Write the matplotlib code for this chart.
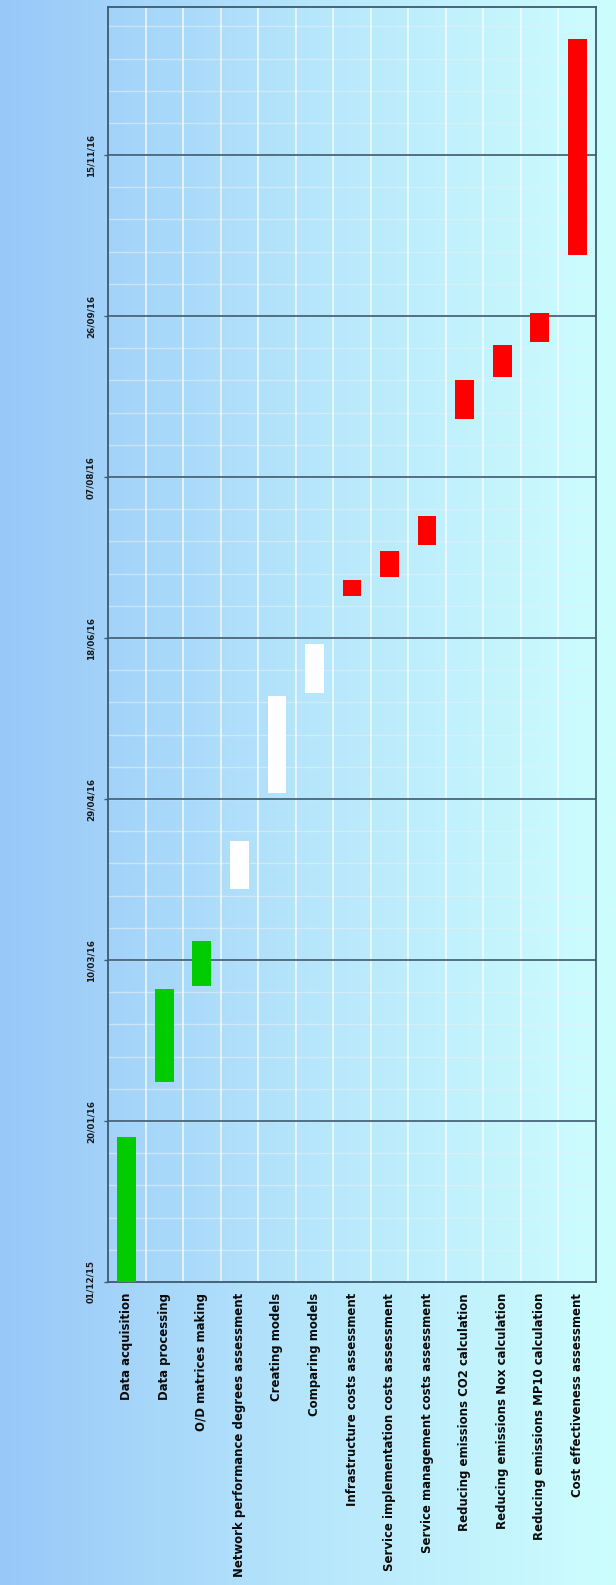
import numpy as np
import pandas as pd
import matplotlib
matplotlib.use("Agg")
import matplotlib.pyplot as plt
import matplotlib.dates as mdates
from matplotlib.colors import LinearSegmentedColormap

tasks = [
    "Data acquisition",
    "Data processing",
    "O/D matrices making",
    "Network performance degrees assessment",
    "Creating models",
    "Comparing models",
    "Infrastructure costs assessment",
    "Service implementation costs assessment",
    "Service management costs assessment",
    "Reducing emissions CO2 calculation",
    "Reducing emissions Nox calculation",
    "Reducing emissions MP10 calculation",
    "Cost effectiveness assessment",
]
starts = ["2015-12-01", "2016-02-01", "2016-03-02", "2016-04-01", "2016-05-01",
          "2016-06-01", "2016-07-01", "2016-07-07", "2016-07-17", "2016-08-25",
          "2016-09-07", "2016-09-18", "2016-10-15"]
ends = ["2016-01-15", "2016-03-01", "2016-03-16", "2016-04-16", "2016-05-31",
        "2016-06-16", "2016-07-06", "2016-07-15", "2016-07-26", "2016-09-06",
        "2016-09-17", "2016-09-27", "2016-12-21"]
phase = ["green", "green", "green", "white", "white", "white", "red",
         "red", "red", "red", "red", "red", "red"]
tick_dates = ["2015-12-01", "2016-01-20", "2016-03-10", "2016-04-29",
              "2016-06-18", "2016-08-07", "2016-09-26", "2016-11-15"]
axis_start, axis_end = "2015-12-01", "2016-12-31"

colors = {"green": "#00cc00", "white": "#ffffff", "red": "#ff0000"}

W, H = 616, 1585
fig = plt.figure(figsize=(W / 100, H / 100), dpi=100)

# horizontal blue-to-cyan backdrop
bg = fig.add_axes([0, 0, 1, 1], zorder=-5)
cmap = LinearSegmentedColormap.from_list("bg", ["#98c8f8", "#b6e6fb", "#cdfefe"])
bg.imshow(np.linspace(0, 1, 256)[None, :], aspect="auto", cmap=cmap,
          extent=[0, 1, 0, 1])
bg.axis("off")

ax = fig.add_axes([108 / W, (H - 1282) / H, (596 - 108) / W, (1282 - 7) / H])
ax.set_facecolor("none")

s = mdates.date2num(pd.to_datetime(starts))
e = mdates.date2num(pd.to_datetime(ends))
x = np.arange(len(tasks))
ax.bar(x, e - s, bottom=s, width=0.5,
       color=[colors[p] for p in phase], edgecolor="none", zorder=3)

ax.set_xlim(-0.5, len(tasks) - 0.5)
ax.set_ylim(mdates.date2num(pd.Timestamp(axis_start)),
            mdates.date2num(pd.Timestamp(axis_end)))

# minor grid every 10 days, major every 50
minor = mdates.date2num(pd.date_range(axis_start, axis_end, freq="10D"))
for m in minor:
    ax.axhline(m, color="#e4eff5", lw=1.0, alpha=0.6, zorder=1)
for b in np.arange(0.5, len(tasks) - 0.5):
    ax.axvline(b, color="#f4fbff", lw=1.2, alpha=0.9, zorder=2)
major = mdates.date2num(pd.to_datetime(tick_dates))
for m in major[1:]:
    ax.axhline(m, color="#3d5a70", lw=1.2, zorder=2)

ax.set_yticks(major)
ax.set_yticklabels([pd.Timestamp(d).strftime("%d/%m/%y") for d in tick_dates],
                   rotation=90, va="center", fontsize=6.3, fontweight="bold",
                   color="#1a1a1a")
ax.tick_params(axis="y", length=3, width=1, color="#3d5a70", pad=6)

ax.set_xticks(x)
ax.set_xticklabels(tasks, rotation=90, ha="center", va="top",
                   fontsize=9.4, fontweight="bold", fontstretch="condensed",
                   family="DejaVu Sans", color="#0a0a0a")
ax.tick_params(axis="x", length=0, pad=8)

for sp in ax.spines.values():
    sp.set_color("#3d5a70")
    sp.set_linewidth(1.3)

fig.savefig("out.png", dpi=100)
